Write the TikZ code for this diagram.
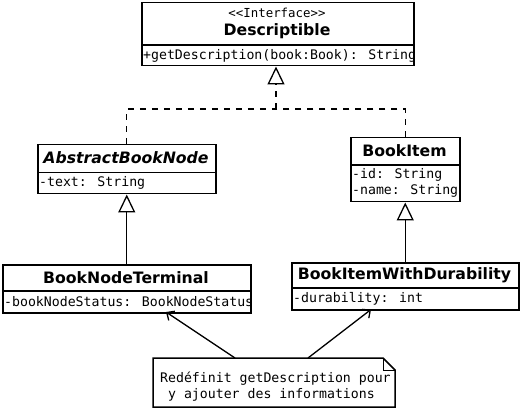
\documentclass[tikz,border=0pt]{standalone}
\usepackage{fontspec}
\setmainfont{DejaVu Sans}
\newfontfamily\monof{DejaVu Sans Mono}
\usetikzlibrary{arrows.meta}
\begin{document}
\begin{tikzpicture}[x=1pt,y=-1pt,
  umlbox/.style={draw, line width=1.5pt, anchor=north west, inner sep=0pt},
  divider/.style={line width=1.5pt},
  ttl/.style={font=\fontsize{15.7}{17}\selectfont\bfseries, inner sep=0pt},
  attr/.style={font=\monof\fontsize{13.2}{15}\selectfont, inner sep=0pt, anchor=west},
  stereo/.style={font=\monof\fontsize{12.4}{14}\selectfont, inner sep=0pt},
  inherit/.style={line width=1.3pt, -{Triangle[open,length=18pt,width=17pt,line width=1.3pt]}},
  realize/.style={inherit, dash pattern=on 6pt off 6pt},
  dashln/.style={line width=1.3pt, dash pattern=on 6pt off 6pt},
  noteln/.style={line width=1.3pt, -{Straight Barb[length=6pt,width=11pt,line width=1.3pt]}}
]
\useasboundingbox (0,0) rectangle (520,409);

% Descriptible
\node[umlbox, minimum width=272pt, minimum height=63pt] (desc) at (141,2) {};
\draw[divider] (141,45) -- (413,45);
\node[stereo] (descst) at (277,13) {<{}<Interface>{}>};
\node[ttl] (desct) at (277,31) {Descriptible};
\node[attr] (desca) at (143,55.5) {+getDescription(book:Book): String};

% AbstractBookNode
\node[umlbox, minimum width=178pt, minimum height=49pt] (abn) at (37,144) {};
\draw[divider] (37,172.5) -- (215,172.5);
\node[ttl, font=\fontsize{15.7}{17}\selectfont\bfseries\itshape] (abnt) at (126,158) {AbstractBookNode};
\node[attr] (abna) at (39,182.5) {-text: String};

% BookItem
\node[umlbox, minimum width=109pt, minimum height=64pt] (bi) at (350,137) {};
\draw[divider] (350,165) -- (459,165);
\node[ttl] (bit) at (404.5,151) {BookItem};
\node[attr] (bia1) at (352,174.5) {-id: String};
\node[attr] (bia2) at (352,191) {-name: String};

% BookNodeTerminal
\node[umlbox, minimum width=248pt, minimum height=48pt] (bnt) at (2,264) {};
\draw[divider] (2,291) -- (250,291);
\node[ttl] (bntt) at (126,277.5) {BookNodeTerminal};
\node[attr] (bnta) at (4,301.5) {-bookNodeStatus: BookNodeStatus};

% BookItemWithDurability
\node[umlbox, minimum width=227pt, minimum height=47pt] (biwd) at (291,262) {};
\draw[divider] (291,288) -- (518,288);
\node[ttl] (biwdt) at (404.5,275) {BookItemWithDurability};
\node[attr] (biwda) at (293,299) {-durability: int};

% Note
\draw[line width=1.5pt] (153,358) -- (383,358) -- (395,370) -- (395,407) -- (153,407) -- cycle;
\draw[line width=1pt] (383,358) -- (383,370) -- (395,370);
\node[inner sep=0pt, minimum width=242pt, minimum height=49pt, anchor=north west] (note) at (153,358) {};
\node[font=\monof\fontsize{13.2}{16}\selectfont, inner sep=0pt, align=left, anchor=west] (notet) at (160,387)
  {Redéfinit getDescription pour\\\ y ajouter des informations};

% Connectors
\coordinate (jn) at (276,109);
\draw[dashln] (abn.north) |- (jn);
\draw[dashln] (bi.north) |- (jn);
\draw[realize] (jn) -- (desc.south -| jn);
\draw[inherit] (bnt.north) -- (abn.south);
\draw[inherit] (biwd.north) -- (bi.south);

\coordinate (n1) at (235,358);
\coordinate (n2) at (308,358);
\coordinate (t1) at (166,312);
\coordinate (t2) at (371,309.5);
\draw[noteln] (n1) -- (t1);
\draw[noteln] (n2) -- (t2);
\end{tikzpicture}
\end{document}
